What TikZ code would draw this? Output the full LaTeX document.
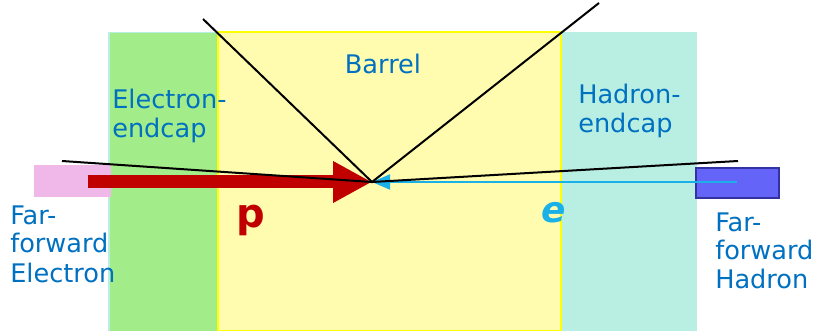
\documentclass[tikz,border=0pt]{standalone}
\usepackage{fontspec}
\setmainfont{DejaVu Sans}
\usetikzlibrary{arrows.meta}

\definecolor{hadroncap}{HTML}{B9EFE3}
\definecolor{electroncap}{HTML}{A2EC89}
\definecolor{barrelfill}{HTML}{FFFCAF}
\definecolor{barreledge}{HTML}{FFFF00}
\definecolor{ffelectron}{HTML}{F0B8E8}
\definecolor{ffhadron}{HTML}{6464F8}
\definecolor{ffhadronedge}{HTML}{3232A0}
\definecolor{labelblue}{HTML}{0070C0}
\definecolor{beamred}{HTML}{C00000}
\definecolor{beamcyan}{HTML}{1AB0E8}

\begin{document}
\begin{tikzpicture}[
    x=0.75pt, y=-0.75pt,
    label/.style={
        inner sep=0pt,
        align=left,
        anchor=base west,
        text=labelblue,
        font=\fontsize{19.2pt}{21.75pt}\selectfont
    },
    track/.style={
        black,
        line width=1.5pt
    }
]

\useasboundingbox (0,0) rectangle (821,331);

% =========================
% Detector regions
% =========================

\fill[hadroncap] (108,32) rectangle (697,331);
\fill[electroncap] (110,33) rectangle (218,331);
\draw[barreledge, line width=1pt, fill=barrelfill] (218,32) rectangle (561,331);

\fill[ffelectron] (34,165) rectangle (111,197);
\draw[ffhadronedge, line width=1.2pt, fill=ffhadron] (696,168) rectangle (779,198);

% =========================
% Labels (anchored at last baseline)
% =========================

\node[label, anchor=base] (barrel) at (383,74) {Barrel};
\node[label] (ecap) at (112,138) {Electron-\\endcap};
\node[label] (hcap) at (578,133) {Hadron-\\endcap};
\node[label] (ffe) at (10,282) {Far-\\forward\\Electron};
\node[label] (ffh) at (715,289) {Far-\\forward\\Hadron};

% =========================
% Beams and tracks
% =========================

\coordinate (vertex) at (372,182);
\coordinate (pstart) at (88,182);
\coordinate (estart) at (737,182);

\draw[beamred, line width=9.75pt,
      -{Triangle[length=29.25pt, width=29.25pt]}]
(pstart) -- (vertex);

\draw[beamcyan, line width=1.5pt,
      -{Triangle[length=13.5pt, width=11.25pt]}]
(estart) -- (vertex);

\coordinate (tl) at (203,19);
\coordinate (tr) at (599,3);
\coordinate (fl) at (62,161);
\coordinate (fr) at (738,161);

\draw[track] (tl) -- (vertex) -- (tr);
\draw[track] (fl) -- (vertex) -- (fr);

\node[inner sep=0pt, anchor=base west, text=beamred,
      font=\fontsize{30pt}{30pt}\selectfont\bfseries] (plabel) at (236,228) {p};
\node[inner sep=0pt, anchor=base west, text=beamcyan,
      font=\fontsize{27pt}{27pt}\selectfont\bfseries\itshape] (elabel) at (541,223) {e};

\end{tikzpicture}
\end{document}
